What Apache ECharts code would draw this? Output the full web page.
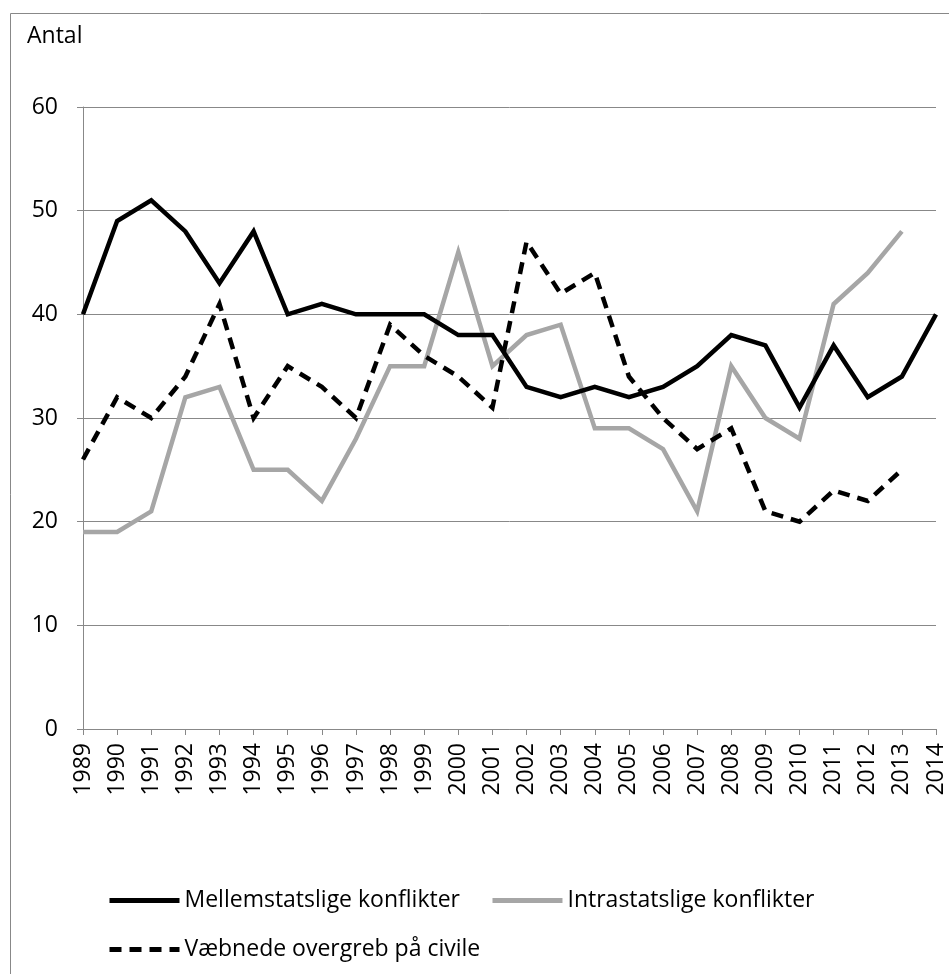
<!DOCTYPE html>
<html>
<head>
<meta charset="utf-8">
<script src="https://cdn.jsdelivr.net/npm/echarts@6/dist/echarts.min.js"></script>
<style>
  html, body { margin: 0; padding: 0; background: #fff; }
  #main { width: 949px; height: 974px; }
</style>
</head>
<body>
<div id="main"></div>
<script>
// years on the x axis
var years = ['1989','1990','1991','1992','1993','1994','1995','1996','1997','1998','1999','2000','2001',
             '2002','2003','2004','2005','2006','2007','2008','2009','2010','2011','2012','2013','2014'];
// series values
var mellemstatslige = [40,49,51,48,43,48,40,41,40,40,40,38,38,33,32,33,32,33,35,38,37,31,37,32,34,40];
var intrastatslige  = [19,19,21,32,33,25,25,22,28,35,35,46,35,38,39,29,29,27,21,35,30,28,41,44,48,null];
var overgreb        = [26,32,30,34,41,30,35,33,30,39,36,34,31,47,42,44,34,30,27,29,21,20,23,22,25,null];

var font = 'Open Sans';
var dom = document.getElementById('main');
var myChart = echarts.init(dom);

var legendText = { fontSize: 23, color: '#000', fontFamily: font };

var option = {
    animation: false,
    textStyle: { fontFamily: font },
    graphic: [
        {
            type: 'rect',
            shape: { x: 10.5, y: 13.5, width: 945, height: 970 },
            style: { fill: 'none', stroke: '#888', lineWidth: 1 }
        },
        {
            type: 'text',
            left: 27, top: 25,
            style: { text: 'Antal', font: '23px "Open Sans"', fill: '#000' }
        }
    ],
    grid: { left: 83, right: 13, top: 107, bottom: 245, containLabel: false },
    legend: [
        {
            data: ['Mellemstatslige konflikter', 'Intrastatslige konflikter'],
            left: 107, top: 889, padding: 0,
            itemWidth: 70, itemHeight: 14, itemGap: 30,
            itemStyle: { opacity: 0 },
            lineStyle: { width: 5 },
            textStyle: legendText
        },
        {
            data: ['Væbnede overgreb på civile'],
            left: 107, top: 938, padding: 0,
            itemWidth: 70, itemHeight: 14,
            itemStyle: { opacity: 0 },
            lineStyle: { width: 5 },
            textStyle: legendText
        }
    ],
    xAxis: {
        type: 'category',
        data: years,
        boundaryGap: false,
        axisLine: { lineStyle: { color: '#888', width: 1 } },
        axisTick: { show: true, length: 6, lineStyle: { color: '#888' } },
        axisLabel: { rotate: 90, fontSize: 23, color: '#000', margin: 14, interval: 0, fontFamily: font }
    },
    yAxis: {
        type: 'value',
        min: 0, max: 60, interval: 10,
        axisLine: { show: true, lineStyle: { color: '#888', width: 1 } },
        axisTick: { show: true, length: 6, lineStyle: { color: '#888' } },
        axisLabel: { fontSize: 23, color: '#000', margin: 25, fontFamily: font },
        splitLine: { lineStyle: { color: '#888', width: 1 } }
    },
    series: [
        {
            name: 'Mellemstatslige konflikter',
            type: 'line',
            data: mellemstatslige,
            symbol: 'none',
            color: '#000',
            lineStyle: { color: '#000', width: 4.5, join: 'miter' },
            z: 3
        },
        {
            name: 'Intrastatslige konflikter',
            type: 'line',
            data: intrastatslige,
            symbol: 'none',
            color: '#a6a6a6',
            lineStyle: { color: '#a6a6a6', width: 4.5, join: 'miter' },
            z: 2
        },
        {
            name: 'Væbnede overgreb på civile',
            type: 'line',
            data: overgreb,
            symbol: 'none',
            color: '#000',
            lineStyle: { color: '#000', width: 4.5, type: [12, 8], join: 'miter' },
            z: 4
        }
    ]
};

myChart.setOption(option);
</script>
</body>
</html>
